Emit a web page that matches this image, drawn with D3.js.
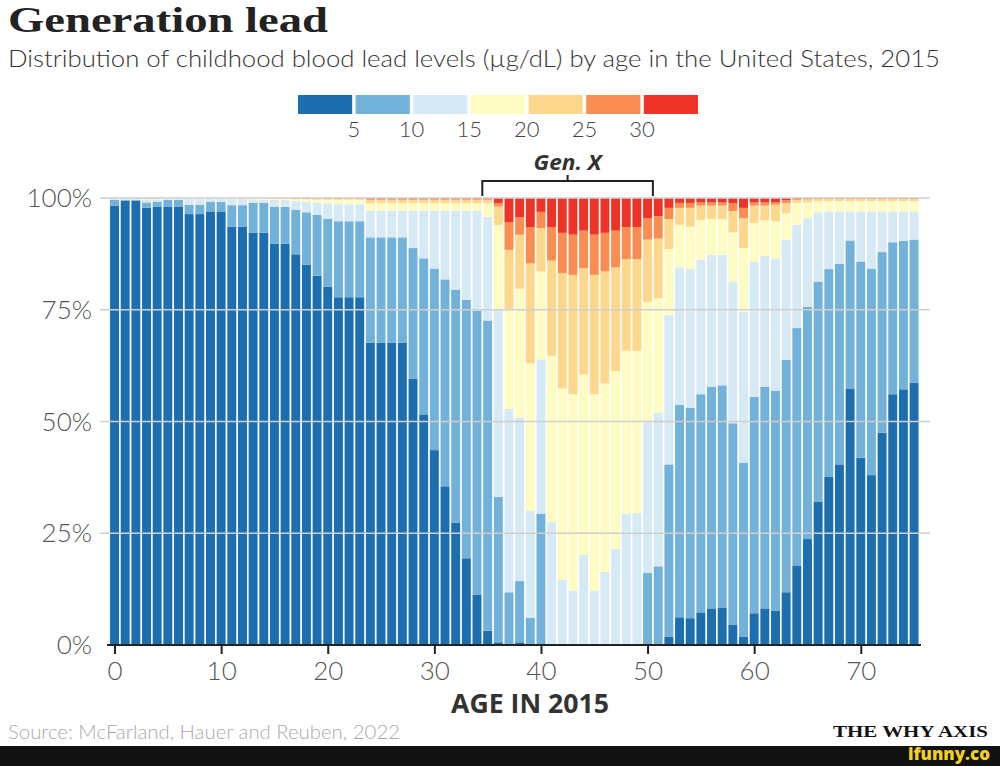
<!DOCTYPE html>
<html>
<head>
<meta charset="utf-8">
<script src="https://cdn.jsdelivr.net/npm/d3@7"></script>
<style>
  html, body { margin: 0; padding: 0; background: #fff; }
  svg { display: block; }
</style>
</head>
<body>
<svg id="chart" width="1000" height="766"></svg>
<script>
// ---------- DATA ----------
const ages = [0,1,2,3,4,5,6,7,8,9,10,11,12,13,14,15,16,17,18,19,20,21,22,23,24,25,26,27,28,29,30,31,32,33,34,35,36,37,38,39,40,41,42,43,44,45,46,47,48,49,50,51,52,53,54,55,56,57,58,59,60,61,62,63,64,65,66,67,68,69,70,71,72,73,74,75];

// share of children (%) by blood lead level band, per age in 2015
const lt5 = [98.3,99.4,99.4,97.8,98.0,98.0,98.0,96.4,96.4,97.0,97.0,93.6,93.6,92.2,92.2,89.8,89.8,87.4,85.1,82.6,80.2,77.8,77.8,77.8,67.6,67.6,67.6,67.6,59.6,51.6,43.6,35.5,27.4,19.4,11.3,3.2,0.6,0,0.6,0,0,0,0,0,0,0,0,0,0,0,0,0,1.9,6.2,6.0,7.3,8.2,8.4,4.6,1.9,7.1,8.2,7.7,11.8,17.8,23.7,32.1,37.6,40.4,57.4,41.9,38.0,47.5,56.1,57.2,58.7];
const b5to10 = [1.3,0.2,0.2,1.2,1.2,1.6,1.6,2.1,2.1,2.1,2.1,4.8,4.8,6.7,6.7,8.2,8.2,10.0,11.7,13.6,15.2,17.0,17.0,17.0,23.6,23.6,23.6,23.6,29.2,34.9,40.6,46.3,52.1,57.8,63.5,69.4,32.5,11.8,13.7,6.1,29.4,0,0,0,0,0,0,0,0,0,16.1,17.6,38.5,47.5,47.1,48.8,49.6,49.7,45.0,38.9,48.4,49.6,49.2,52.0,53.1,52.0,49.2,46.5,44.9,33.1,43.9,46.2,40.4,34.0,33.2,32.0];
const b10to15 = [0.4,0.4,0.4,0.7,0.5,0.3,0.3,1.3,1.3,0.7,0.7,1.4,1.4,0.8,0.8,1.6,1.6,1.9,2.4,2.8,3.4,3.8,3.8,3.8,6.0,6.0,6.0,6.0,8.4,10.7,13.0,15.4,17.7,20.0,22.4,23.2,41.9,41.0,36.6,24.0,34.5,27.5,14.6,12.2,20.2,12.2,16.4,21.5,29.4,29.5,33.7,34.4,33.4,30.8,31.0,30.1,29.5,29.2,31.7,33.8,30.3,29.3,29.6,26.9,23.1,19.8,15.5,12.9,11.7,6.5,11.2,12.8,9.1,6.9,6.6,6.3];
const b15to20 = [0,0,0,0.1,0.1,0.1,0.1,0.2,0.2,0.2,0.2,0.2,0.2,0.3,0.3,0.2,0.2,0.4,0.5,0.6,0.8,1.0,1.0,1.0,1.6,1.6,1.6,1.6,1.6,1.6,1.6,1.6,1.6,1.6,1.6,3.0,19.0,22.4,28.8,32.9,19.7,37.2,42.8,43.9,40.3,43.9,42.1,39.8,36.4,36.3,26.9,25.6,14.8,9.5,9.5,8.9,8.0,8.0,11.0,14.2,8.6,7.9,8.3,5.9,4.9,3.5,2.5,2.3,2.3,2.3,2.3,2.3,2.3,2.3,2.3,2.3];
const b20to25 = [0,0,0,0.1,0.1,0,0,0,0,0,0,0,0,0,0,0.1,0.1,0.2,0.2,0.3,0.3,0.3,0.3,0.3,0.8,0.8,0.8,0.8,0.8,0.8,0.8,0.8,0.8,0.8,0.8,0.8,4.1,13.2,12.1,22.4,9.7,21.3,25.8,26.7,23.8,26.7,25.1,23.2,20.5,20.5,14.0,13.3,6.7,3.8,4.2,3.2,3.0,3.0,4.8,6.7,3.9,3.3,3.7,2.3,0.7,0.7,0.5,0.5,0.5,0.5,0.5,0.5,0.5,0.5,0.5,0.5];
const b25to30 = [0,0,0,0.1,0.1,0,0,0,0,0,0,0,0,0,0,0.1,0.1,0.1,0.1,0.1,0.1,0.1,0.1,0.1,0.3,0.3,0.3,0.3,0.3,0.3,0.3,0.3,0.3,0.3,0.3,0.3,0.8,6.2,3.9,8.1,3.6,7.5,9.0,9.0,8.4,9.0,8.6,8.2,7.2,7.2,4.8,5.0,2.5,1.1,1.1,0.7,0.7,0.7,1.7,2.3,0.7,0.7,0.6,0.6,0.2,0.2,0.1,0.1,0.1,0.1,0.1,0.1,0.1,0.1,0.1,0.1];
const gt30 = [0,0,0,0,0,0,0,0,0,0,0,0,0,0,0,0,0,0,0,0,0,0,0,0,0.1,0.1,0.1,0.1,0.1,0.1,0.1,0.1,0.1,0.1,0.1,0.1,1.1,5.4,4.3,6.5,3.1,6.5,7.8,8.2,7.3,8.2,7.8,7.3,6.5,6.5,4.5,4.1,2.2,1.1,1.1,1.0,1.0,1.0,1.2,2.2,1.0,1.0,0.9,0.5,0.2,0.1,0.1,0.1,0.1,0.1,0.1,0.1,0.1,0.1,0.1,0.1];

const seriesKeys = ["lt5","b5to10","b10to15","b15to20","b20to25","b25to30","gt30"];
const seriesColors = ["#1c6eaf","#72b1d9","#d6eaf5","#fffcc2","#fdd78b","#f98d52","#ee3427"];
const legendLabels = ["5","10","15","20","25","30"];
const yTicks = [0, 0.25, 0.5, 0.75, 1];
const xTicks = [0,10,20,30,40,50,60,70];
const genX = [35, 50];

// ---------- BUILD ----------
const table = ages.map((a, i) => ({
  age: a, lt5: lt5[i], b5to10: b5to10[i], b10to15: b10to15[i], b15to20: b15to20[i],
  b20to25: b20to25[i], b25to30: b25to30[i], gt30: gt30[i]
}));

const svg = d3.select("#chart");
const W = 1000, H = 766;
const plot = { left: 109.2, right: 919.4, top: 198, bottom: 645 };

const x = d3.scaleBand().domain(ages).range([plot.left, plot.right]).paddingInner(0.16).paddingOuter(0.08);
const y = d3.scaleLinear().domain([0, 1]).range([plot.bottom, plot.top]);
const color = d3.scaleOrdinal().domain(seriesKeys).range(seriesColors);

const stack = d3.stack().keys(seriesKeys).offset(d3.stackOffsetExpand);
const stacked = stack(table);

const sans = "Lato, 'Open Sans', sans-serif";

function fitWidth(sel, w) {
  sel.attr("textLength", w).attr("lengthAdjust", "spacingAndGlyphs");
}

// Title
const title = svg.append("text").attr("x", 8).attr("y", 32)
  .attr("font-family", "'Liberation Serif', 'DejaVu Serif', serif")
  .attr("font-weight", 700).attr("font-size", 35).attr("fill", "#222")
  .text("Generation lead");
fitWidth(title, 320);

// Subtitle
const sub = svg.append("text").attr("x", 8).attr("y", 67)
  .attr("font-family", sans).attr("font-weight", 300).attr("font-size", 23).attr("fill", "#333")
  .text("Distribution of childhood blood lead levels (µg/dL) by age in the United States, 2015");
fitWidth(sub, 932);

// Legend
const legX = 298, legW = 400, legY = 95, legH = 19;
const legScale = d3.scaleBand().domain(seriesKeys).range([legX, legX + legW]).paddingInner(0.06);
svg.append("g").selectAll("rect").data(seriesKeys).join("rect")
  .attr("x", d => legScale(d)).attr("y", legY)
  .attr("width", legScale.bandwidth()).attr("height", legH)
  .attr("fill", d => color(d));
svg.append("g").selectAll("text").data(legendLabels).join("text")
  .attr("x", (d, i) => (legScale(seriesKeys[i]) + legScale.bandwidth() + legScale(seriesKeys[i + 1])) / 2)
  .attr("y", 137).attr("text-anchor", "middle")
  .attr("font-family", sans).attr("font-weight", 300).attr("font-size", 22).attr("fill", "#444")
  .text(d => d);

// Bars
svg.append("g").selectAll("g").data(stacked).join("g")
  .attr("fill", d => color(d.key))
  .selectAll("rect").data(d => d).join("rect")
  .attr("x", d => x(d.data.age))
  .attr("width", x.bandwidth())
  .attr("y", d => y(d[1]))
  .attr("height", d => Math.max(0, y(d[0]) - y(d[1])));

// Gridlines (over bars)
svg.append("g").selectAll("line").data(yTicks.filter(t => t > 0)).join("line")
  .attr("x1", 100).attr("x2", 930)
  .attr("y1", d => y(d)).attr("y2", d => y(d))
  .attr("stroke", "#cfcfcf").attr("stroke-width", 1.5);

// Y labels
svg.append("g").selectAll("text").data(yTicks).join("text")
  .attr("x", 92).attr("y", d => y(d) + 9).attr("text-anchor", "end")
  .attr("font-family", sans).attr("font-weight", 300).attr("font-size", 26).attr("fill", "#555")
  .text(d => d3.format(".0%")(d));

// X axis
const xLin = d3.scaleLinear().domain([0, 1]).range([x(0) + x.bandwidth() / 2, x(1) + x.bandwidth() / 2]);
const xAxis = d3.axisBottom(xLin).tickValues(xTicks).tickSize(9).tickFormat(d3.format("d"));
const gx = svg.append("g").attr("transform", `translate(0,${plot.bottom})`).call(xAxis);
gx.select(".domain").remove();
gx.selectAll(".tick line").attr("stroke", "#222").attr("stroke-width", 2);
gx.selectAll(".tick text").attr("font-family", sans).attr("font-weight", 300)
  .attr("font-size", 26).attr("fill", "#555").attr("y", 35).attr("dy", 0);
svg.append("line").attr("x1", 107).attr("x2", 921).attr("y1", plot.bottom).attr("y2", plot.bottom)
  .attr("stroke", "#222").attr("stroke-width", 2);

// Axis title
const at = svg.append("text").attr("x", 530).attr("y", 713).attr("text-anchor", "middle")
  .attr("font-family", "'Open Sans', sans-serif").attr("font-weight", 700).attr("font-size", 26).attr("fill", "#333")
  .text("AGE IN 2015");
fitWidth(at, 158);

// Gen X bracket
const step = x.step();
const bx0 = x(genX[0]) + x.bandwidth() / 2 - step / 2;
const bx1 = x(genX[1]) + x.bandwidth() / 2 + step / 2;
const bmid = (bx0 + bx1) / 2;
svg.append("path")
  .attr("d", `M${bx0},196 V181 H${bx1} V196 M${bmid},181 V175`)
  .attr("fill", "none").attr("stroke", "#222").attr("stroke-width", 2);
const gxt = svg.append("text").attr("x", bmid).attr("y", 170).attr("text-anchor", "middle")
  .attr("font-family", "'Open Sans', sans-serif").attr("font-weight", 700).attr("font-style", "italic")
  .attr("font-size", 22).attr("fill", "#333").text("Gen. X");
fitWidth(gxt, 68);

// Source
const src = svg.append("text").attr("x", 8).attr("y", 739)
  .attr("font-family", sans).attr("font-weight", 300).attr("font-size", 19).attr("fill", "#aaa")
  .text("Source: McFarland, Hauer and Reuben, 2022");
fitWidth(src, 392);

const twa = svg.append("text").attr("x", 988).attr("y", 737).attr("text-anchor", "end")
  .attr("font-family", "'Liberation Serif', serif").attr("font-weight", 700).attr("font-size", 17).attr("fill", "#111")
  .text("THE WHY AXIS");
fitWidth(twa, 155);

// Bottom band
svg.append("rect").attr("x", 0).attr("y", 746).attr("width", W).attr("height", 20).attr("fill", "#111");
svg.append("text").attr("x", 990).attr("y", 760).attr("text-anchor", "end")
  .attr("font-family", "'Open Sans', sans-serif").attr("font-weight", 800).attr("font-size", 17).attr("fill", "#f2d21b")
  .text("ifunny.co");
</script>
</body>
</html>
